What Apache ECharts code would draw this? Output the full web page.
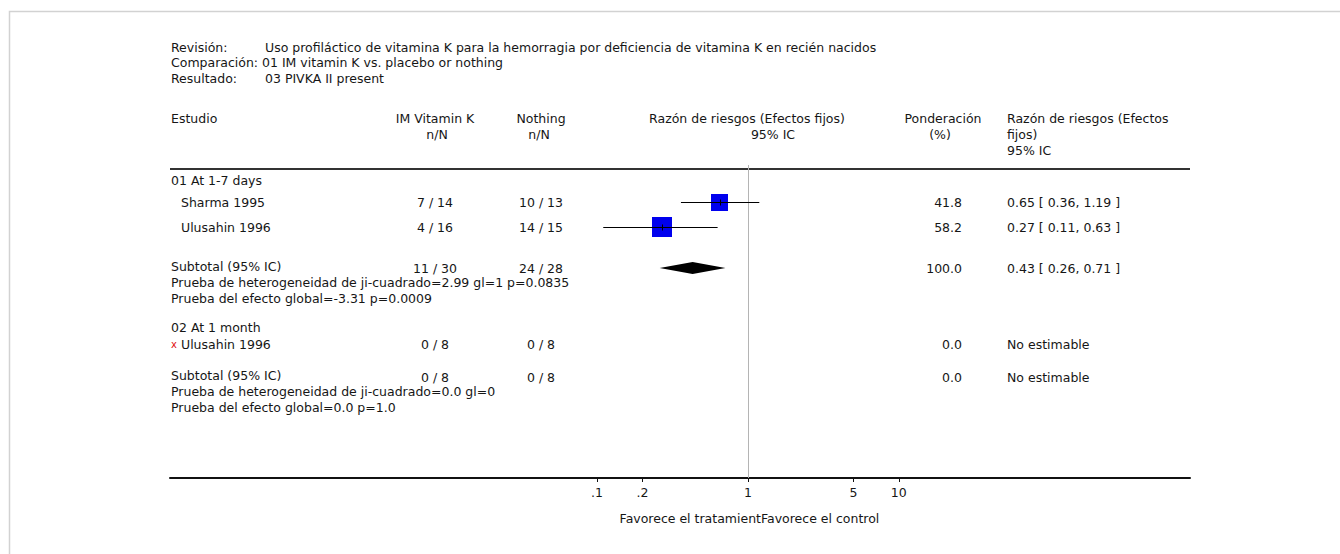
<!DOCTYPE html>
<html>
<head>
<meta charset="utf-8">
<title>PIVKA II present – forest plot</title>
<script src="https://cdn.jsdelivr.net/npm/echarts@6/dist/echarts.min.js"></script>
<style>
  html, body { margin: 0; padding: 0; background: #ffffff; }
  #chart { width: 1340px; height: 554px; }
</style>
</head>
<body>
<div id="chart"></div>
<script>
// ---------- review information ----------
const reviewTitle = 'Uso profiláctico de vitamina K para la hemorragia por deficiencia de vitamina K en recién nacidos';
const comparisonTitle = '01 IM vitamin K vs. placebo or nothing';
const outcomeTitle = '03 PIVKA II present';

// ---------- subgroups ----------
const groupNames = ['01 At 1-7 days', '02 At 1 month'];

// ---------- individual studies ----------
const studyNames = ['Sharma 1995', 'Ulusahin 1996', 'Ulusahin 1996'];
const studyGroup = [0, 0, 1];
const treatEvents = [7, 4, 0];
const treatTotals = [14, 16, 8];
const controlEvents = [10, 14, 0];
const controlTotals = [13, 15, 8];
const studyWeights = [41.8, 58.2, 0.0];
const studyRR = [0.65, 0.27, null];
const studyLow = [0.36, 0.11, null];
const studyHigh = [1.19, 0.63, null];

// ---------- subgroup totals ----------
const subTreatEvents = [11, 0];
const subTreatTotals = [30, 8];
const subControlEvents = [24, 0];
const subControlTotals = [28, 8];
const subWeights = [100.0, 0.0];
const subRR = [0.43, null];
const subLow = [0.26, null];
const subHigh = [0.71, null];
const heterogeneityTests = [
  'Prueba de heterogeneidad de ji-cuadrado=2.99 gl=1 p=0.0835',
  'Prueba de heterogeneidad de ji-cuadrado=0.0 gl=0'
];
const overallTests = [
  'Prueba del efecto global=-3.31 p=0.0009',
  'Prueba del efecto global=0.0 p=1.0'
];

// ---------- risk-ratio axis ----------
const tickValues = [0.1, 0.2, 1, 5, 10];
const tickLabels = ['.1', '.2', '1', '5', '10'];

// ---------- layout ----------
const FONT_FAMILY = '"DejaVu Sans", "Liberation Sans", sans-serif';
const FONT_SIZE = 12.5;
const FONT = FONT_SIZE + 'px ' + FONT_FAMILY;
const TEXT = '#161616';
const COL = { label: 171, indent: 181, treat: 435, control: 541, weight: 962, ci: 1007, mark: 174 };
const ROW_Y = {
  groupHeader: [180, 327],
  study: [202, 227, 344],
  subtotal: [266, 375],
  het: [282, 391],
  overall: [298, 407]
};
const SUBTOTAL_COUNT_DROP = 2;  // subtotal n/N sits slightly below its label
const SQUARE_SCALE = 2.63;      // side length = scale * sqrt(weight)
const DIAMOND_HALF = 6;

// ---------- helpers ----------
const fmtN = (e, n) => e + ' / ' + n;
const fmtW = w => w.toFixed(1);
const fmtCI = (r, lo, hi) => r == null ? 'No estimable'
  : r.toFixed(2) + ' [ ' + lo.toFixed(2) + ', ' + hi.toFixed(2) + ' ]';

// Build the table rows in drawing order
const rows = [];
groupNames.forEach((g, gi) => {
  rows.push({ kind: 'group', y: ROW_Y.groupHeader[gi], text: g });
  studyNames.forEach((name, si) => {
    if (studyGroup[si] !== gi) return;
    rows.push({
      kind: 'study', y: ROW_Y.study[si], name,
      treat: fmtN(treatEvents[si], treatTotals[si]),
      control: fmtN(controlEvents[si], controlTotals[si]),
      weight: studyWeights[si],
      rr: studyRR[si], lo: studyLow[si], hi: studyHigh[si]
    });
  });
  rows.push({
    kind: 'subtotal', y: ROW_Y.subtotal[gi],
    treat: fmtN(subTreatEvents[gi], subTreatTotals[gi]),
    control: fmtN(subControlEvents[gi], subControlTotals[gi]),
    weight: subWeights[gi],
    rr: subRR[gi], lo: subLow[gi], hi: subHigh[gi]
  });
  rows.push({ kind: 'text', y: ROW_Y.het[gi], text: heterogeneityTests[gi] });
  rows.push({ kind: 'text', y: ROW_Y.overall[gi], text: overallTests[gi] });
});

function txt(x, y, s, align, color) {
  return {
    type: 'text',
    style: { x, y, text: s, fill: color || TEXT, font: FONT, align: align || 'left', verticalAlign: 'middle' }
  };
}

// crisp 1px strokes
const px = v => Math.round(v) + 0.5;

function renderRow(params, api) {
  const r = rows[params.dataIndex];
  const y = api.coord([0, r.y])[1];
  const children = [];
  if (r.kind === 'group' || r.kind === 'text') {
    children.push(txt(COL.label, y, r.text));
  } else {
    const countY = r.kind === 'subtotal' ? y + SUBTOTAL_COUNT_DROP : y;
    if (r.kind === 'study') {
      children.push(txt(COL.indent, y, r.name));
      if (r.rr == null) {
        children.push({
          type: 'text',
          style: { x: COL.mark, y: y, text: 'x', fill: '#e01010', font: '10px ' + FONT_FAMILY, align: 'center', verticalAlign: 'middle' }
        });
      }
    } else {
      children.push(txt(COL.label, y, 'Subtotal (95% IC)'));
    }
    children.push(txt(COL.treat, countY, r.treat, 'center'));
    children.push(txt(COL.control, countY, r.control, 'center'));
    children.push(txt(COL.weight, countY, fmtW(r.weight), 'right'));
    children.push(txt(COL.ci, countY, fmtCI(r.rr, r.lo, r.hi)));

    if (r.rr != null) {
      const xc = api.coord([Math.log10(r.rr), r.y])[0];
      const xl = api.coord([Math.log10(r.lo), r.y])[0];
      const xr = api.coord([Math.log10(r.hi), r.y])[0];
      if (r.kind === 'study') {
        const side = SQUARE_SCALE * Math.sqrt(r.weight);
        const ly = px(y);
        children.push({
          type: 'rect',
          shape: { x: Math.round(xc - side / 2), y: Math.round(ly - side / 2), width: Math.round(side), height: Math.round(side) },
          style: { fill: '#0000ee' }
        });
        children.push({
          type: 'line',
          shape: { x1: xl, y1: ly, x2: xr, y2: ly },
          style: { stroke: '#000', lineWidth: 1 }
        });
        children.push({
          type: 'line',
          shape: { x1: px(xc), y1: ly - 3, x2: px(xc), y2: ly + 3 },
          style: { stroke: '#000', lineWidth: 1 }
        });
      } else {
        const dy = countY;
        children.push({
          type: 'polygon',
          shape: { points: [[xl, dy], [xc, dy - DIAMOND_HALF], [xr, dy], [xc, dy + DIAMOND_HALF]] },
          style: { fill: '#000' }
        });
      }
    }
  }
  return { type: 'group', children };
}

function renderNullLine(params, api) {
  const top = api.coord([0, 165]);
  const bottom = api.coord([0, 478]);
  return {
    type: 'line',
    shape: { x1: px(top[0]), y1: top[1], x2: px(bottom[0]), y2: bottom[1] },
    style: { stroke: '#b4b4b4', lineWidth: 1 }
  };
}

const logTicks = tickValues.map(v => Math.log10(v));
function tickFormatter(v) {
  const i = logTicks.findIndex(t => Math.abs(t - v) < 1e-6);
  return i >= 0 ? tickLabels[i] : '';
}

function headerText(x, y, s, align) {
  return {
    type: 'text', x: 0, y: 0, silent: true,
    style: { x, y, text: s, fill: TEXT, font: FONT, align: align || 'left', verticalAlign: 'middle' }
  };
}

const chart = echarts.init(document.getElementById('chart'), null, { renderer: 'svg' });

chart.setOption({
  animation: false,
  backgroundColor: '#ffffff',
  grid: { left: 170, right: 150, top: 0, bottom: 76 },
  xAxis: {
    type: 'value',
    min: -3.83,
    max: 2.93,
    axisLine: { show: true, onZero: false, lineStyle: { color: '#111', width: 2 } },
    axisTick: { show: true, customValues: logTicks, length: 4, lineStyle: { color: '#111', width: 1 } },
    axisLabel: {
      customValues: logTicks, formatter: tickFormatter, margin: 8,
      color: TEXT, fontSize: FONT_SIZE, fontFamily: FONT_FAMILY
    },
    splitLine: { show: false }
  },
  yAxis: { type: 'value', min: 0, max: 478, inverse: true, show: false },
  graphic: [
    { type: 'rect', silent: true, shape: { x: 9.5, y: 11.5, width: 1400, height: 600 }, style: { fill: 'none', stroke: '#d2d2d2', lineWidth: 1.5 } },
    headerText(171, 47, 'Revisión:'),
    headerText(265, 47, reviewTitle),
    headerText(171, 62, 'Comparación: ' + comparisonTitle),
    headerText(171, 78, 'Resultado:'),
    headerText(265, 78, outcomeTitle),
    headerText(171, 118, 'Estudio'),
    headerText(COL.treat, 118, 'IM Vitamin K', 'center'),
    headerText(COL.treat + 2, 134, 'n/N', 'center'),
    headerText(COL.control, 118, 'Nothing', 'center'),
    headerText(COL.control - 2, 134, 'n/N', 'center'),
    headerText(747, 118, 'Razón de riesgos (Efectos fijos)', 'center'),
    headerText(773, 134, '95% IC', 'center'),
    headerText(943, 118, 'Ponderación', 'center'),
    headerText(940, 134, '(%)', 'center'),
    headerText(COL.ci, 118, 'Razón de riesgos (Efectos'),
    headerText(COL.ci, 134, 'fijos)'),
    headerText(COL.ci, 150, '95% IC'),
    { type: 'line', silent: true, shape: { x1: 170, y1: 169, x2: 1190, y2: 169 }, style: { stroke: '#333', lineWidth: 2 } },
    headerText(761, 518, 'Favorece el tratamient', 'right'),
    headerText(761, 518, 'Favorece el control', 'left')
  ],
  series: [
    {
      type: 'custom', name: 'null line', clip: false,
      renderItem: renderNullLine, data: [[0]], silent: true, z: 1
    },
    {
      type: 'custom', name: 'studies', clip: false,
      renderItem: renderRow, data: rows.map((r, i) => [i]), silent: true, z: 2
    }
  ]
});
</script>
</body>
</html>
